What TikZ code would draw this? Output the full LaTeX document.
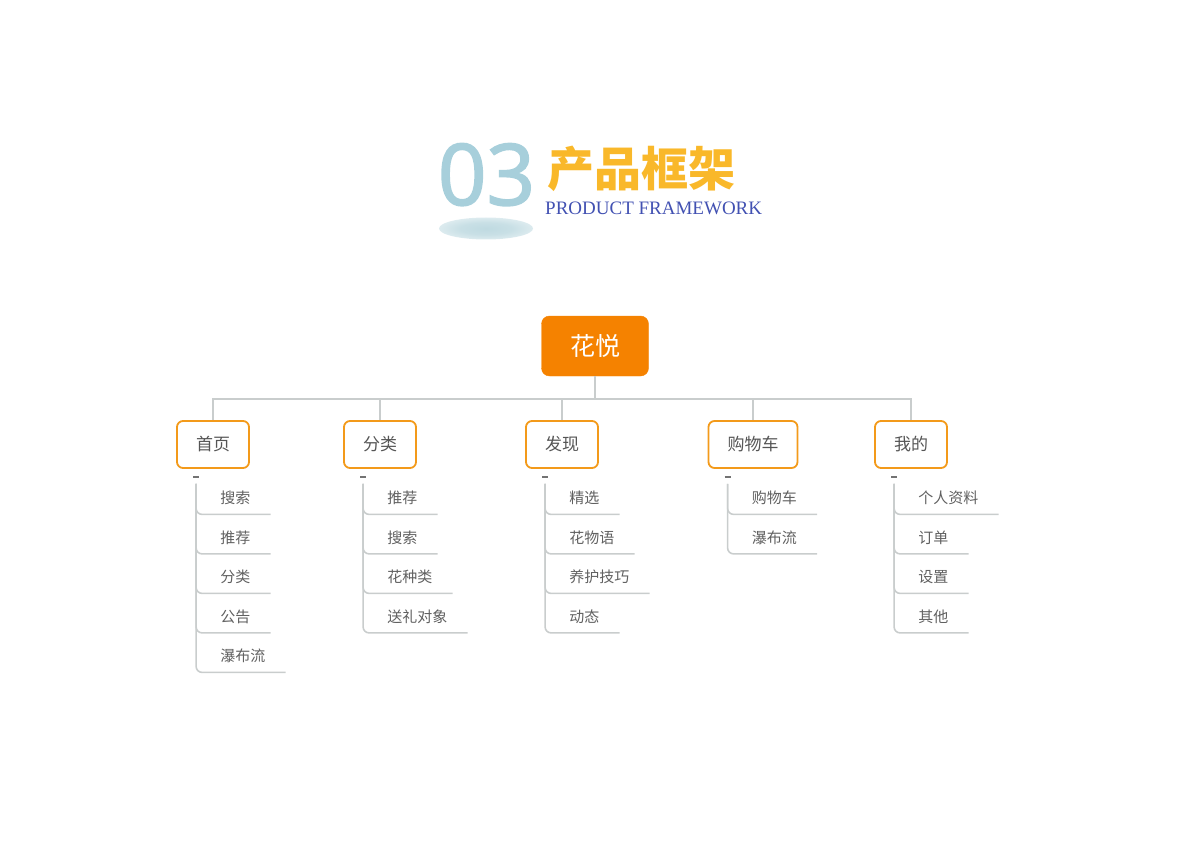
\documentclass[tikz,border=0pt]{standalone}
\usepackage{fontspec}
\setmainfont{Liberation Serif}
\newfontfamily\cjk{Noto Sans CJK SC}
\newfontfamily\numfont[FakeBold=2]{Open Sans}
\usepackage{tikz}
\usetikzlibrary{shapes}
\usetikzlibrary{positioning}
\usetikzlibrary{calc}
\usetikzlibrary{shadings}
\definecolor{rootorange}{HTML}{F58200}
\definecolor{boxorange}{HTML}{F39A1A}
\definecolor{linkgray}{HTML}{C9CDCD}
\definecolor{txtgray}{HTML}{555555}
\definecolor{leafgray}{HTML}{606060}
\definecolor{numblue}{HTML}{A7CFDB}
\definecolor{titleyellow}{HTML}{F9B82A}
\definecolor{engblue}{HTML}{4251B2}
\definecolor{haloblue}{HTML}{BFDAE1}
\pgfdeclareradialshading{halo}{\pgfpoint{0bp}{0bp}}{color(0bp)=(haloblue); color(14bp)=(haloblue!85); color(32bp)=(haloblue!35); color(48bp)=(white); color(50bp)=(white)}
\tikzstyle{rootbox}=[rectangle,fill=rootorange,draw=rootorange,rounded corners=8pt,minimum width=107pt,minimum height=60pt,text=white,font=\cjk\fontsize{25}{30}\selectfont]
\tikzstyle{menubox}=[rectangle,draw=boxorange,line width=1.8pt,rounded corners=6pt,fill=white,inner xsep=19pt,minimum height=47pt,text=txtgray,font=\cjk\fontsize{17}{20}\selectfont]
\tikzstyle{leaf}=[anchor=south west,inner sep=0pt,text depth=10.5pt,text=leafgray,font=\cjk\fontsize{15}{18}\selectfont]
\tikzstyle{link}=[draw=linkgray,line width=1.6pt]
\tikzstyle{fold}=[draw=black!55,line width=1.3pt]
\begin{document}
\begin{tikzpicture}[x=1pt,y=-1pt]
\useasboundingbox (0,0) rectangle (1191,842);

%title
\node[anchor=base,inner sep=0pt,text=numblue,font=\numfont\fontsize{85}{85}\selectfont] (num) at (486.5,205) {03};
\shade[shading=halo] (486,228.5) ellipse (47 and 11);
\node[anchor=base west,inner sep=0pt,text=titleyellow,font=\cjk\bfseries\fontsize{47}{50}\selectfont] (title) at (547,187) {产品框架};
\node[anchor=base west,inner sep=0pt,text=engblue,font=\fontsize{19}{22}\selectfont] (eng) at (545,215) {PRODUCT FRAMEWORK};

%root
\node[rootbox] (root) at (595,346) {花悦};

%menu
\foreach \n/\x/\t in {home/213/首页,sort/380/分类,find/562/发现,cart/753/购物车,mine/911/我的} {
  \node[menubox] (\n) at (\x,444.5) {\t};
  \draw[link] (root.south) -- ++(0,23) -| (\n.north);
}

%leaves
\foreach \n/\items in {home/{搜索,推荐,分类,公告,瀑布流},sort/{推荐,搜索,花种类,送礼对象},find/{精选,花物语,养护技巧,动态},cart/{购物车,瀑布流},mine/{个人资料,订单,设置,其他}} {
  \coordinate (\n-top) at ($(\n.south west)+(20,15)$);
  \draw[fold] ($(\n-top)+(-3,-7)$) -- ++(6,0);
  \foreach \t [count=\k] in \items {
    \node[leaf] (\n\k) at ($(\n-top)+(24,30.5+39.5*\k-39.5)$) {\t};
    \draw[link,rounded corners=6pt] (\n-top) |- ([xshift=20pt]\n\k.south east);
  }
}
\end{tikzpicture}
\end{document}
